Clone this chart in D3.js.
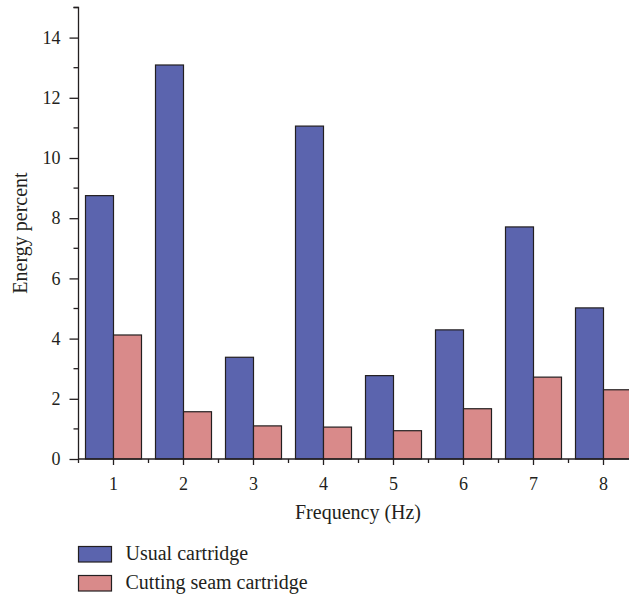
<!DOCTYPE html>
<html>
<head>
<meta charset="utf-8">
<script src="https://cdn.jsdelivr.net/npm/d3@7"></script>
<style>
  body { margin: 0; background: #fff; }
  text { font-family: "Liberation Serif", "DejaVu Serif", serif; fill: #231f20; }
</style>
</head>
<body>
<div id="chart"></div>
<script>
// data
const categories = ["1", "2", "3", "4", "5", "6", "7", "8"];
const usualCartridge = [8.75, 13.09, 3.38, 11.06, 2.77, 4.29, 7.71, 5.02];
const cuttingSeamCartridge = [4.12, 1.57, 1.10, 1.06, 0.94, 1.67, 2.72, 2.30];
const seriesNames = ["Usual cartridge", "Cutting seam cartridge"];
const yTicks = [0, 2, 4, 6, 8, 10, 12, 14];
const yMinorTicks = [1, 3, 5, 7, 9, 11, 13, 15];

const W = 629, H = 597;
const colors = ["#5b64ae", "#d98a8a"];

const svg = d3.select("#chart").append("svg")
  .attr("width", W).attr("height", H);

// scales
const x = d3.scaleBand()
  .domain(categories)
  .range([78.5, 638.5])
  .paddingInner(0.2)
  .paddingOuter(0.1);

const y = d3.scaleLinear()
  .domain([0, 15])
  .range([459, 7.5]);

const xSub = d3.scaleBand()
  .domain([0, 1])
  .range([0, x.bandwidth()]);

// bars
const rows = categories.map((c, i) => ({ c, vals: [usualCartridge[i], cuttingSeamCartridge[i]] }));
svg.append("g")
  .selectAll("g")
  .data(rows)
  .join("g")
  .attr("transform", d => `translate(${x(d.c)},0)`)
  .selectAll("rect")
  .data(d => d.vals.map((v, k) => ({ v, k })))
  .join("rect")
  .attr("x", d => xSub(d.k))
  .attr("y", d => y(d.v))
  .attr("width", xSub.bandwidth())
  .attr("height", d => y(0) - y(d.v))
  .attr("fill", d => colors[d.k])
  .attr("stroke", "#231f20")
  .attr("stroke-width", 1.2);

// Y axis
const yAxis = svg.append("g")
  .attr("transform", "translate(78.5,0)")
  .call(d3.axisLeft(y).tickValues(yTicks).tickSize(9).tickPadding(9).tickFormat(d3.format("d")));
yAxis.select(".domain").attr("stroke", "#231f20").attr("stroke-width", 1.3)
  .attr("d", `M-5,${y(15)}H0V${y(0)}`);
yAxis.selectAll(".tick line").attr("stroke", "#231f20").attr("stroke-width", 1.3);
yAxis.selectAll(".tick text").attr("font-size", 18)
  .attr("font-family", "Liberation Serif, serif").attr("fill", "#231f20");
yAxis.append("g").selectAll("line")
  .data(yMinorTicks)
  .join("line")
  .attr("x1", -5).attr("x2", 0)
  .attr("y1", d => y(d)).attr("y2", d => y(d))
  .attr("stroke", "#231f20").attr("stroke-width", 1.3);

// X axis
const xAxis = svg.append("g")
  .attr("transform", `translate(0,${y(0)})`)
  .call(d3.axisBottom(x).tickSize(6).tickPadding(12));
xAxis.select(".domain").attr("stroke", "#231f20").attr("stroke-width", 1.5)
  .attr("d", `M78.5,0H${W}`);
xAxis.selectAll(".tick line").attr("stroke", "#231f20").attr("stroke-width", 1.3);
xAxis.selectAll(".tick text").attr("font-size", 18)
  .attr("font-family", "Liberation Serif, serif").attr("fill", "#231f20");
// band boundary ticks
xAxis.append("g").selectAll("line")
  .data(categories)
  .join("line")
  .attr("x1", d => x(d) - x.step() * x.paddingInner() / 2)
  .attr("x2", d => x(d) - x.step() * x.paddingInner() / 2)
  .attr("y1", 0).attr("y2", 4)
  .attr("stroke", "#231f20").attr("stroke-width", 1.3);

// axis titles
svg.append("text")
  .attr("x", 358).attr("y", 519)
  .attr("text-anchor", "middle")
  .attr("font-size", 20)
  .text("Frequency (Hz)");

svg.append("text")
  .attr("transform", "translate(27,233) rotate(-90)")
  .attr("text-anchor", "middle")
  .attr("font-size", 20)
  .text("Energy percent");

// legend
const legend = svg.append("g")
  .selectAll("g")
  .data(seriesNames)
  .join("g")
  .attr("transform", (d, i) => `translate(78.5,${546.5 + i * 29})`);
legend.append("rect")
  .attr("width", 33).attr("height", 15.5)
  .attr("fill", (d, i) => colors[i])
  .attr("stroke", "#231f20").attr("stroke-width", 1.2);
legend.append("text")
  .attr("x", 47).attr("y", 13.5)
  .attr("font-size", 20)
  .text(d => d);
</script>
</body>
</html>
